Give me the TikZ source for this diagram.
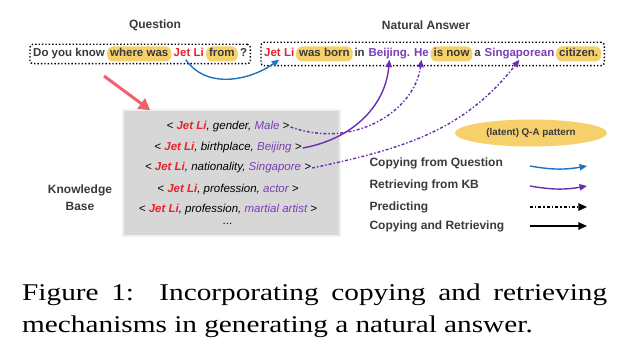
\documentclass[tikz,border=0pt]{standalone}
\usepackage{fontspec}
\setsansfont{Liberation Sans}
\newfontfamily\capfont{Liberation Serif}[FakeStretch=1.22]
\usetikzlibrary{positioning,arrows.meta,calc,fit,shapes.geometric}

\definecolor{qagray}{HTML}{3A3A3A}
\definecolor{jetred}{HTML}{E8232E}
\definecolor{kbpurple}{HTML}{7A3DB8}
\definecolor{arpurple}{HTML}{6A2DB0}
\definecolor{hlyellow}{HTML}{F6D06A}
\definecolor{cpblue}{HTML}{1F72BE}
\definecolor{kbfill}{HTML}{D7D7D7}
\definecolor{redarrow}{HTML}{F2606E}

\newcommand{\jetli}{\textcolor{jetred}{\bfseries Jet Li}}

\begin{document}
\begin{tikzpicture}[
        x=1pt, y=-1pt,
        font=\sffamily,
        >={Triangle[length=2.6mm,width=2.2mm]},
        wd/.style   ={inner sep=0pt, anchor=base west, text height=8.5pt, text depth=2.5pt,
                      font=\sffamily\bfseries\fontsize{11.5}{13}\selectfont, text=qagray},
        hl/.style   ={wd, fill=hlyellow, rounded corners=6pt, inner xsep=3pt, inner ysep=2pt},
        dotbox/.style={draw, dotted, line width=1.4pt, rounded corners=3pt,
                      inner xsep=3pt, inner ysep=4pt},
        ttl/.style  ={font=\sffamily\bfseries\fontsize{12}{14}\selectfont, text=qagray},
        kbbox/.style={fill=kbfill, draw=gray!12, line width=1.5pt,
                      minimum width=217pt, minimum height=126pt},
        kbl/.style  ={font=\sffamily\itshape\fontsize{11.5}{13}\selectfont, inner sep=1pt},
        lgtxt/.style={anchor=west, font=\sffamily\bfseries\fontsize{12}{14}\selectfont,
                      text=qagray},
        cpq/.style  ={->, cpblue, line width=1.4pt},
        retr/.style ={->, arpurple, line width=1.4pt},
        pred/.style ={retr, dash dot},
        lgblue/.style  ={cpq, bend right=10},
        lgpurple/.style={retr, bend right=10},
        lgpred/.style  ={pred, black, >={Triangle[length=3mm,width=2.6mm]}},
        lgboth/.style  ={retr, black, >={Triangle[length=3mm,width=2.6mm]}},
        kbin/.style ={-{Triangle[length=4mm,width=4.4mm]}, redarrow, line width=3pt},
        capnode/.style={inner sep=0pt, text width=585pt, align=justify,
                      font=\capfont\fontsize{24}{32}\selectfont},
    ]
    \useasboundingbox (0,0) rectangle (640,353);

    % ===================== Question =====================
    \node[ttl] (qlbl) at (155,25) {Question};
    \node[wd] (q1) at (33,57) {Do you know};
    \node[hl] (q2) at ([xshift=2pt]q1.base east) {where was};
    \node[wd, text=jetred] (q3) at ([xshift=2pt]q2.base east) {Jet Li};
    \node[hl] (q4) at ([xshift=2pt]q3.base east) {from};
    \node[wd] (q5) at ([xshift=2pt]q4.base east) {?};
    \node[dotbox, fit=(q1)(q5)] (qbox) {};

    % ===================== Natural answer =====================
    \node[ttl] (albl) at (426,25) {Natural Answer};
    \node[wd, text=jetred] (a1) at (264,57) {Jet Li};
    \node[hl] (a2) at ([xshift=1.5pt]a1.base east) {was born};
    \node[wd] (a3) at ([xshift=1.5pt]a2.base east) {in};
    \node[wd, text=kbpurple] (a4) at ([xshift=3.5pt]a3.base east) {Beijing.};
    \node[wd, text=kbpurple] (a5) at ([xshift=3.5pt]a4.base east) {He};
    \node[hl] (a6) at ([xshift=1.5pt]a5.base east) {is now};
    \node[wd] (a7) at ([xshift=1.5pt]a6.base east) {a};
    \node[wd, text=kbpurple] (a8) at ([xshift=3.5pt]a7.base east) {Singaporean};
    \node[hl] (a9) at ([xshift=1.5pt]a8.base east) {citizen.};
    \node[dotbox, fit=(a1)(a9)] (abox) {};

    % ===================== Knowledge base =====================
    \node[kbbox] (kb) at (231.5,173) {};
    \node[ttl, align=center, font=\sffamily\bfseries\fontsize{12}{17}\selectfont]
        (kblbl) at (80,198) {Knowledge\\Base};
    \foreach \n / \y / \rel / \val in {1/127/gender/Male, 2/148/birthplace/Beijing,
            3/168/nationality/Singapore, 4/190/profession/actor,
            5/210/profession/martial artist}{
        \node[kbl] (kb\n) at (228,\y) {< \jetli, \rel, \textcolor{kbpurple}{\val} >};
    }
    \node[kbl] (kb6) at (228,224) {...};

    \coordinate (kbtail) at (104,76);
    \draw[kbin] (kbtail) -- ([xshift=28pt,yshift=-1pt]kb.north west);

    % ===================== Copying / retrieving =====================
    \draw[cpq] ([xshift=-3pt]q3.south) to[out=-55, in=-145] (a1.south);
    \draw[retr] (kb2.east) to[out=10, in=-95] (a4.south);
    \draw[pred] (kb1.east) .. controls (355,150) and (415,110) .. (a5.south);
    \draw[pred] (kb3.east) to[out=12, in=-128] (a8.south);

    % ===================== Legend =====================
    \node[ellipse, fill=hlyellow, minimum width=152pt, minimum height=27pt,
          font=\sffamily\bfseries\fontsize{9.8}{11}\selectfont, text=qagray]
        (qapat) at (531,133) {(latent) Q-A pattern};
    \node[lgtxt] (lg1) at (366,163) {Copying from Question};
    \node[lgtxt] (lg2) at (366,185) {Retrieving from KB};
    \node[lgtxt] (lg3) at (366,207) {Predicting};
    \node[lgtxt] (lg4) at (366,226) {Copying and Retrieving};
    \foreach \n / \y / \sty in {1/166/lgblue, 2/186/lgpurple, 3/207/lgpred, 4/226/lgboth}{
        \coordinate (ls\n) at (530,\y);
        \coordinate (le\n) at (587,\y);
        \draw[\sty] (ls\n) to (le\n);
    }

    % ===================== Caption =====================
    \node[capnode, anchor=north west] (cap) at (22,284)
        {Figure 1:\ \ Incorporating copying and retrieving\linebreak
         mechanisms in generating a natural answer.};
\end{tikzpicture}
\end{document}
